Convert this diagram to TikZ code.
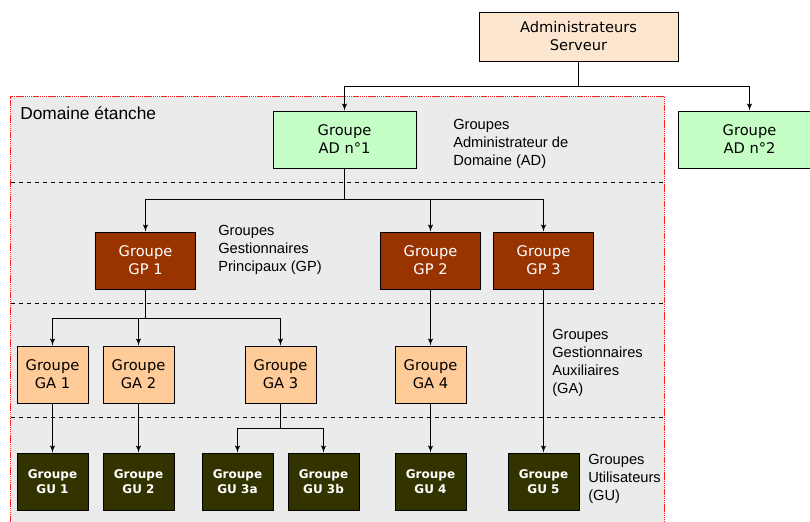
\documentclass[tikz,border=0pt]{standalone}
\usepackage{fontspec}
\setmainfont{Liberation Sans}
\newfontfamily\boxfont{DejaVu Sans}
\usetikzlibrary{shapes,arrows}
\definecolor{adgreen}{HTML}{C6FFC6}
\definecolor{srvpeach}{HTML}{FDE6D0}
\definecolor{gpbrown}{HTML}{993300}
\definecolor{gaorange}{HTML}{FFCC99}
\definecolor{guolive}{HTML}{333300}
\definecolor{zonegray}{HTML}{EBEBEB}
\definecolor{zonered}{HTML}{FF2020}
\tikzstyle{box} = [rectangle, draw, line width=0.75pt, align=center, inner sep=0pt,
    font=\boxfont\fontsize{11}{13.5}\selectfont, minimum height=42.75pt]
\tikzstyle{adbox} = [box, fill=adgreen, minimum width=107.25pt]
\tikzstyle{gpbox} = [box, fill=gpbrown, text=white, minimum width=75pt]
\tikzstyle{gabox} = [box, fill=gaorange, minimum width=53.25pt]
\tikzstyle{gubox} = [box, fill=guolive, text=white, minimum width=53.25pt,
    font=\boxfont\bfseries\fontsize{9}{11}\selectfont]
\tikzstyle{note} = [align=left, inner sep=0pt, anchor=west,
    font=\fontsize{11}{13.5}\selectfont]
\tikzstyle{line} = [draw, line width=0.8pt, -latex']
\tikzstyle{sep} = [draw, dashed, line width=0.6pt]

\begin{document}
\begin{tikzpicture}[x=0.75pt, y=-0.75pt]
    \useasboundingbox (0,0) rectangle (810,521);
    % Domain area
    \fill [zonegray] (10.5,96.5) rectangle (664.5,524);
    \draw [draw=zonered, line width=0.75pt, dash pattern=on 1.1pt off 0.5pt] (10.5,524) -- (10.5,96.5) -- (664.5,96.5) -- (664.5,524);
    \node [anchor=west, inner sep=0pt, font=\fontsize{13}{15}\selectfont] (zone) at (20,113) {Domaine étanche};
    \path [sep] (10.5,182.5) -- (664.5,182.5);
    \path [sep] (10.5,303.5) -- (664.5,303.5);
    \path [sep] (10.5,417.5) -- (664.5,417.5);
    % Place nodes
    \node [box, fill=srvpeach, minimum width=149.25pt, minimum height=36.75pt] (admin) at (578.5,36.5) {Administrateurs\\Serveur};
    \node [adbox] (ad1) at (344.5,139.5) {Groupe\\AD n°1};
    \node [adbox] (ad2) at (749.5,139.5) {Groupe\\AD n°2};
    \node [gpbox] (gp1) at (145.5,260.5) {Groupe\\GP 1};
    \node [gpbox] (gp2) at (430.5,260.5) {Groupe\\GP 2};
    \node [gpbox] (gp3) at (543.5,260.5) {Groupe\\GP 3};
    \node [gabox] (ga1) at (52.5,374.5) {Groupe\\GA 1};
    \node [gabox] (ga2) at (138.5,374.5) {Groupe\\GA 2};
    \node [gabox] (ga3) at (280.5,374.5) {Groupe\\GA 3};
    \node [gabox] (ga4) at (430.5,374.5) {Groupe\\GA 4};
    \node [gubox] (gu1) at (52.5,481.5) {Groupe\\GU 1};
    \node [gubox] (gu2) at (138.5,481.5) {Groupe\\GU 2};
    \node [gubox] (gu3a) at (237.5,481.5) {Groupe\\GU 3a};
    \node [gubox] (gu3b) at (323.5,481.5) {Groupe\\GU 3b};
    \node [gubox] (gu4) at (430.5,481.5) {Groupe\\GU 4};
    \node [gubox] (gu5) at (543.5,481.5) {Groupe\\GU 5};
    % Level labels
    \node [note] (lblad) at (453,144) {Groupes\\Administrateur de\\Domaine (AD)};
    \node [note] (lblgp) at (218,250) {Groupes\\Gestionnaires\\Principaux (GP)};
    \node [note] (lblga) at (552,363) {Groupes\\Gestionnaires\\Auxiliaires\\(GA)};
    \node [note] (lblgu) at (588,479) {Groupes\\Utilisateurs\\(GU)};
    % Junctions
    \coordinate (jsrv) at (578.5,86.5);
    \coordinate (jad) at (344.5,199.5);
    \coordinate (jgp) at (145.5,318.5);
    \coordinate (jga) at (280.5,428.5);
    % Draw edges
    \draw [line width=0.8pt] (admin) -- (jsrv);
    \path [line] (jsrv) -| (ad1);
    \path [line] (jsrv) -| (ad2);
    \draw [line width=0.8pt] (ad1) -- (jad);
    \path [line] (jad) -| (gp1);
    \path [line] (jad) -| (gp2);
    \path [line] (jad) -| (gp3);
    \draw [line width=0.8pt] (gp1) -- (jgp);
    \path [line] (jgp) -| (ga1);
    \path [line] (jgp) -| (ga2);
    \path [line] (jgp) -| (ga3);
    \path [line] (gp2) -- (ga4);
    \path [line] (gp3) -- (gu5);
    \path [line] (ga1) -- (gu1);
    \path [line] (ga2) -- (gu2);
    \draw [line width=0.8pt] (ga3) -- (jga);
    \path [line] (jga) -| (gu3a);
    \path [line] (jga) -| (gu3b);
    \path [line] (ga4) -- (gu4);
\end{tikzpicture}
\end{document}
